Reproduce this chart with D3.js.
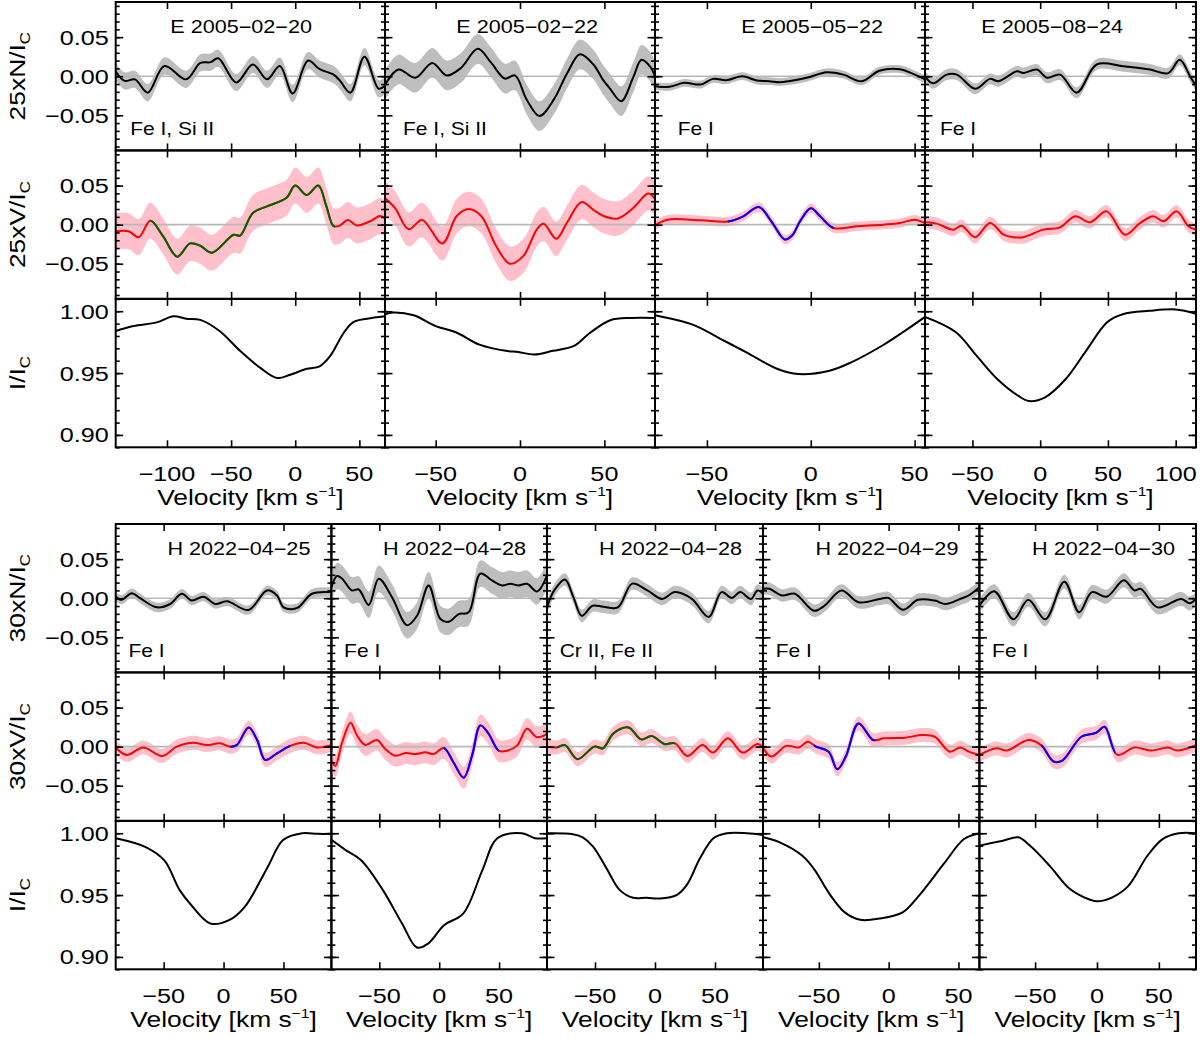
<!DOCTYPE html>
<html><head><meta charset="utf-8">
<script src="https://cdn.jsdelivr.net/npm/d3@7"></script>
<style>
body{margin:0;background:#fff}
svg{display:block}
text{font-family:"Liberation Sans",Arial,Helvetica,sans-serif;fill:#000}
</style>
</head><body>
<svg id="c" width="1200" height="1037"></svg>
<script>
// ---------------- DATA ----------------
// Panel titles and line lists
const topTitles = ["E 2005\u221202\u221220","E 2005\u221202\u221222","E 2005\u221205\u221222","E 2005\u221208\u221224"];
const topLines  = ["Fe I, Si II","Fe I, Si II","Fe I","Fe I"];
const botTitles = ["H 2022\u221204\u221225","H 2022\u221204\u221228","H 2022\u221204\u221228","H 2022\u221204\u221229","H 2022\u221204\u221230"];
const botLines  = ["Fe I","Fe I","Cr II, Fe II","Fe I","Fe I"];

// Velocity ranges (km/s) and tick labels
const topXDomains = [[-140,70],[-80,80],[-75,55],[-85,115]];
const botXDomains = [[-90,90],[-90,90],[-90,90],[-90,65],[-95,80]];
const topXTicks = [[-100,-50,0,50],[-50,0,50],[-50,0,50],[-50,0,50,100]];
const botXTicks = [[-50,0,50],[-50,0,50],[-50,0,50],[-50,0,50],[-50,0,50]];
const nvTicks = [-0.05,0.00,0.05];
const iTicks  = [0.90,0.95,1.00];
const nvDomain = [-0.095,0.095];
const iDomain  = [0.89,1.01];

// Uncertainty half-widths of shaded bands
const topNErr = [0.011,0.019,0.005,0.007];
const topVErr = [0.023,0.022,0.006,0.008];
const botNErr = [0.006,0.017,0.008,0.008,0.009];
const botVErr = [0.009,0.014,0.009,0.009,0.009];

// Highlighted Stokes V segments [vStart, vEnd, kind]  (g = green, b = blue)
const topVSeg = [[[-113,31,"g"]],[],[[-40,11,"b"]],[]];
const botVSeg = [[[5.6,55.7,"b"]],[[3.8,49.7,"b"]],[[-82,17,"g"]],[[-53.5,-9.5,"b"]],[[-45.2,14.8,"b"]]];

// ---- E 2005-02-20 ----
const e0220N = [[-140,0.006],[-133,-0.006],[-125,-0.004],[-115,-0.021],[-102,0.013],[-85,-0.004],[-74,0.017],[-66,0.018],[-60,0.023],[-46,-0.008],[-33,0.015],[-22,-0.004],[-12,0.013],[-2,-0.022],[10,0.020],[19,0.009],[30,0.002],[35,-0.006],[43,-0.021],[54,0.025],[65,-0.016],[70,-0.012]];
const e0220V = [[-140,-0.0085],[-130,-0.0085],[-122,-0.016],[-113,0.005],[-103,-0.015],[-92,-0.041],[-82,-0.024],[-74,-0.027],[-65,-0.036],[-48,-0.013],[-43,-0.014],[-33,0.015],[-22,0.0235],[-7,0.034],[0,0.05],[9,0.038],[18,0.05],[24,0.025],[30,-0.002],[35,-0.001],[41,0.006],[48,-0.001],[58,0.004],[66,0.011],[70,0.008]];
const e0220I = [[-140,0.984],[-126,0.988],[-108,0.991],[-95,0.996],[-85,0.994],[-74,0.993],[-59,0.984],[-43,0.968],[-27,0.954],[-14,0.946],[-4,0.9486],[9,0.9535],[19,0.9555],[27,0.9635],[37.5,0.982],[45,0.991],[56,0.994],[70,0.996]];
// ---- E 2005-02-22 ----
const e0222N = [[-80,-0.011],[-72,0.0085],[-62,-0.002],[-52,0.017],[-43.5,0.001],[-35,0.0106],[-25,0.035],[-17,0.017],[-9,-0.003],[-3,0.001],[4,-0.030],[11.5,-0.051],[20,-0.030],[28,0.004],[35.5,0.028],[43.5,0.015],[49,-0.004],[53,-0.015],[60,-0.032],[67,-0.002],[72,0.021],[77,0.0127],[80,0]];
const e0222V = [[-80,0.034],[-74,0.021],[-66,-0.006],[-58,0.006],[-46,-0.024],[-37.5,0.011],[-30.5,0.020],[-23,0.011],[-14,-0.028],[-6,-0.050],[2,-0.040],[10,-0.006],[14,0.001],[21.5,-0.018],[27.7,0.002],[36.5,0.029],[43.5,0.019],[49.5,0.011],[58,0.008],[67,0.021],[76,0.040],[80,0.033]];
const e0222I = [[-80,0.9976],[-75,0.999],[-63,0.9967],[-50,0.988],[-38,0.983],[-24,0.973],[-8.5,0.968],[-1,0.967],[8.5,0.965],[19.5,0.968],[32,0.972],[41,0.982],[53.5,0.9927],[66,0.9946],[80,0.9946]];
// ---- E 2005-05-22 ----
const e0522N = [[-75,-0.0127],[-68,-0.0136],[-61,-0.0085],[-53,-0.0106],[-47,-0.0034],[-40.5,-0.005],[-33,0],[-26,-0.0055],[-20,-0.0064],[-15,-0.0076],[-10,-0.006],[-2,-0.002],[7.7,0.005],[15.7,0.002],[24.5,-0.0064],[33,0.007],[43,0.009],[49,0.0034],[55,-0.004]];
const e0522V = [[-75,-0.001],[-69,0.0064],[-53,0.0055],[-40,0.004],[-32.5,0.0107],[-25,0.0226],[-19,0.0043],[-12.5,-0.019],[-9,-0.014],[-5,0.005],[0,0.021],[4.5,0.0107],[11,-0.0043],[22,-0.002],[35,0],[43,0.002],[50,0.0064],[55,0.002]];
const e0522I = [[-75,0.9967],[-56,0.9886],[-43.5,0.9777],[-31,0.9668],[-16,0.9533],[-6,0.9492],[9,0.9519],[19.5,0.9587],[34.5,0.9723],[44.5,0.9832],[55,0.9954]];
// ---- E 2005-08-24 ----
const e0824N = [[-85,0],[-79,-0.009],[-69,0.002],[-61.5,0.002],[-48,-0.016],[-37,-0.0034],[-31,-0.0064],[-17,0.0064],[-12.5,0.004],[-2.5,0.0085],[5,-0.002],[14.7,0.002],[27,-0.021],[41.7,0.015],[61.4,0.0127],[81,0.0085],[94.6,0.004],[103,0.021],[110.6,0],[115,-0.0127]];
const e0824V = [[-85,0.003],[-76.4,0.0013],[-64,-0.0064],[-58,-0.0013],[-48,-0.016],[-37,0.002],[-27,-0.0128],[-20,-0.016],[-12.4,-0.016],[2.4,-0.0064],[14.7,-0.0034],[25.8,0.0107],[36.8,0.003],[49,0.017],[62.6,-0.0128],[73.7,0.002],[83.5,0.0107],[91,0.0043],[100.8,0.017],[109.4,-0.002],[115,-0.0064]];
const e0824I = [[-85,0.9954],[-62.4,0.9832],[-47,0.9641],[-31.5,0.945],[-16,0.9315],[-8.3,0.9274],[3.3,0.9302],[18.7,0.945],[34,0.9682],[49.6,0.9913],[61,0.9976],[80.5,1.0003],[100,1.0014],[115,0.998]];
// ---- H 2022-04-25 ----
const h0425N = [[-90,0.002],[-85,-0.002],[-76.6,0.0065],[-69.7,0],[-55.7,-0.0117],[-44.6,-0.0074],[-34.8,0.0057],[-26.5,-0.003],[-16.7,0.002],[-7,-0.0074],[2.8,-0.004],[20.9,-0.015],[36.2,0.01],[44.6,0.0035],[50.1,-0.0117],[61.3,-0.0126],[73.8,0.0057],[89.2,0.0078]];
const h0425V = [[-90,-0.001],[-80.8,-0.0106],[-66.9,-0.001],[-51.5,-0.012],[-39,0],[-25,0.005],[-14,0.002],[-3,0.0042],[5.6,0],[11,0.002],[21,0.0246],[28,0.0085],[34.8,-0.017],[44.6,-0.0085],[55.7,0.001],[66.9,0.005],[78,-0.001],[90,0.002]];
const h0425I = [[-90,0.996],[-65.4,0.989],[-49.4,0.978],[-36.6,0.954],[-27,0.942],[-11,0.927],[5,0.930],[17.7,0.9405],[37,0.973],[49.7,0.9946],[65.7,1.0],[78.5,0.9995],[90,0.9995]];
// ---- H 2022-04-28 (Fe I) ----
const h0428aN = [[-90,0.0142],[-85.3,0.0284],[-81,0.025],[-72.8,0.0099],[-67.2,0.0112],[-58.8,-0.0086],[-50.5,0.025],[-39.4,0.0013],[-26.8,-0.0345],[-18.5,-0.0224],[-8.8,0.0164],[1,-0.0267],[8,-0.0302],[16.3,-0.0203],[24.6,-0.0181],[34.4,0.0315],[44,0.0228],[52.4,0.0164],[59.4,0.0185],[66.4,0.0164],[73.3,0.0185],[81.7,0.0086],[90,0.0293]];
const h0428aV = [[-90,-0.018],[-86.7,-0.0246],[-81,0.0056],[-74,0.0306],[-68.6,0.0142],[-61.6,0.0022],[-52,0.0086],[-45,-0.003],[-36.6,-0.0116],[-28,-0.0082],[-20,-0.0095],[-11.5,-0.0073],[-4.6,-0.0095],[3.8,-0.0017],[12,-0.0203],[20.4,-0.0397],[27.4,-0.0116],[34.4,0.0272],[41.3,0.0164],[49.7,-0.0052],[56.6,-0.0052],[65,0.0013],[73.3,0.0228],[81.7,0.0121],[90,0.0164]];
const h0428aI = [[-90,0.9946],[-79,0.987],[-65,0.978],[-47,0.954],[-31,0.927],[-18.5,0.9076],[-9,0.911],[4,0.9257],[20,0.935],[36,0.970],[48.5,0.996],[69,1.0],[80,0.996],[90,0.996]];
// ---- H 2022-04-28 (Cr II, Fe II) ----
const h0428bN = [[-90,-0.0117],[-84,0.01],[-75,0.024],[-68,0.0013],[-61,-0.0226],[-52,-0.0096],[-43,-0.011],[-31,-0.0117],[-19,0.0187],[-6.4,0.01],[6,-0.0009],[16.6,0.0078],[30.7,-0.0009],[44.8,-0.024],[55.4,0.0078],[64,0.0004],[71,0.0078],[80,-0.0009],[85.4,0.01],[90,0.0057]];
const h0428bV = [[-90,0],[-82,-0.001],[-75,0.002],[-64.6,-0.016],[-50.5,0],[-43.4,-0.002],[-34.6,0.017],[-22,0.0246],[-11.6,0.0093],[-2.8,0.0136],[7.8,0.0034],[16.6,0.0042],[27,-0.012],[39.5,0.002],[48.4,-0.0076],[60.7,0.0106],[73,-0.0076],[85.4,0.0034],[90,-0.001]];
const h0428bI = [[-90,1.0],[-68.3,0.9992],[-59.9,0.9965],[-51.6,0.9892],[-40.4,0.9716],[-29.3,0.954],[-18.2,0.9478],[-7,0.9478],[4.1,0.9473],[18,0.950],[26.4,0.958],[37.5,0.9797],[48.7,0.996],[59.8,1.0],[76.6,1.0],[90,0.9986]];
// ---- H 2022-04-29 ----
const h0429N = [[-90,0.012],[-85.4,0.012],[-76.3,0.0035],[-67.2,0.0057],[-53.5,-0.016],[-46,-0.0096],[-33.8,0.01],[-21.6,-0.0052],[-6.4,-0.0009],[-0.3,0.0004],[10.3,-0.0148],[21,-0.002],[33,-0.003],[40.7,-0.0074],[51.3,-0.0009],[57.4,0.0035],[65,0.014]];
const h0429V = [[-90,-0.001],[-84,-0.0127],[-73.3,0.001],[-64.2,-0.001],[-58,0.0064],[-52,0],[-43,-0.0064],[-36.8,-0.029],[-30.7,-0.0127],[-21.6,0.0297],[-11,0.0085],[-3.4,0.0106],[11.8,0.0115],[24,0.0148],[33,0.0127],[43.7,-0.0064],[51.3,-0.001],[57.4,-0.0064],[65,-0.0106]];
const h0429I = [[-90,0.9967],[-78,0.9926],[-61.6,0.9816],[-53.4,0.971],[-42.4,0.951],[-31.4,0.936],[-20.4,0.93],[-6.6,0.931],[10,0.936],[21,0.9486],[40,0.976],[54,0.9953],[65,1.0]];
// ---- H 2022-04-30 ----
const h0430N = [[-95,-0.0096],[-83,0.009],[-67.5,-0.027],[-55.5,-0.002],[-41.8,-0.027],[-26.4,0.021],[-14.4,-0.018],[-4.1,0.0078],[7.9,0.002],[21.7,0.023],[30.2,0.01],[35.4,0.012],[49,-0.0117],[68,-0.0009],[74.8,-0.0065],[80,-0.0009]];
const h0430V = [[-95,-0.0106],[-81.3,-0.002],[-72.7,-0.005],[-55.5,0.0085],[-45.2,0.002],[-35,-0.019],[-28,-0.0178],[-12.6,0.0127],[-0.6,0.0178],[6.2,0.0254],[16.5,-0.0106],[30.2,-0.001],[43.9,-0.005],[57.7,-0.001],[64.5,-0.005],[80,0.002]];
const h0430I = [[-95,0.990],[-76,0.994],[-63.5,0.9967],[-54,0.9898],[-38,0.9734],[-22.5,0.9555],[-10,0.948],[-0.4,0.945],[12,0.948],[25,0.957],[40.6,0.9816],[53,0.9953],[66,1.0],[80,1.0]];

const topN = [e0220N,e0222N,e0522N,e0824N];
const topV = [e0220V,e0222V,e0522V,e0824V];
const topI = [e0220I,e0222I,e0522I,e0824I];
const botN = [h0425N,h0428aN,h0428bN,h0429N,h0430N];
const botV = [h0425V,h0428aV,h0428bV,h0429V,h0430V];
const botI = [h0425I,h0428aI,h0428bI,h0429I,h0430I];

// ---------------- LAYOUT / STYLE ----------------
const SX = 1.2; // horizontal stretch of the original font
const FONT = {tick:21, axis:22, title:18, line:17.5};
const COL = {band:"#bebebe", pink:"#ffc0cb", red:"#ff0000", g:"#006400", b:"#0000ff", zero:"#b8b8b8"};
const layout = [
  {y0:2, y1:447.3, cols:[115.7,385,655,925,1196], mult:"25", titles:topTitles, lines:topLines,
   xd:topXDomains, xt:topXTicks, N:topN, V:topV, I:topI, nErr:topNErr, vErr:topVErr, seg:topVSeg,
   titleRight:[73,57,42,73], lineLeft:[14.5,18,22.7,15]},
  {y0:524, y1:969.3, cols:[115.7,331.4,547,763,979.4,1196], mult:"30", titles:botTitles, lines:botLines,
   xd:botXDomains, xt:botXTicks, N:botN, V:botV, I:botI, nErr:botNErr, vErr:botVErr, seg:botVSeg,
   titleRight:[21,21,21,21,21], lineLeft:[12.7,12.7,12.7,12.7,12.7]}
];

const svg = d3.select("#c");
let clipId = 0;

function txt(g, x, y, s, size, anchor, rot){
  const t = g.append("text")
    .attr("transform", `translate(${x},${y})` + (rot ? ` rotate(${rot})` : "") + ` scale(${SX},1)`)
    .attr("font-size", size).attr("text-anchor", anchor || "start");
  if (s !== null) t.text(s);
  return t;
}

function minorTicks(dom, step){
  const out = [];
  const a = Math.ceil(dom[0]/step - 1e-9), b = Math.floor(dom[1]/step + 1e-9);
  for (let k=a;k<=b;k++) out.push(+(k*step).toFixed(4));
  return out;
}

layout.forEach(L => {
  const h = (L.y1 - L.y0) / 3;
  const nCols = L.cols.length - 1;
  for (let c=0;c<nCols;c++){
    const xl = L.cols[c], xr = L.cols[c+1];
    const x = d3.scaleLinear().domain(L.xd[c]).range([xl, xr]);
    const rows = [
      {data:L.N[c], dom:nvDomain, err:L.nErr[c], band:COL.band, line:"#000", kind:"N"},
      {data:L.V[c], dom:nvDomain, err:L.vErr[c], band:COL.pink, line:COL.red, kind:"V"},
      {data:L.I[c], dom:iDomain, err:0, band:null, line:"#000", kind:"I"}
    ];
    rows.forEach((R, r) => {
      const yt = L.y0 + r*h, yb = yt + h;
      const y = d3.scaleLinear().domain(R.dom).range([yb, yt]);
      const g = svg.append("g");
      const id = "clip" + (clipId++);
      svg.append("clipPath").attr("id", id).append("rect")
        .attr("x", xl).attr("y", yt).attr("width", xr-xl).attr("height", h);
      const pg = g.append("g").attr("clip-path", `url(#${id})`);
      const curve = d3.curveCatmullRom.alpha(0.5);
      if (R.band){
        const area = d3.area().x(d=>x(d[0])).y0(d=>y(d[1]-R.err)).y1(d=>y(d[1]+R.err)).curve(curve);
        pg.append("path").datum(R.data).attr("d", area).attr("fill", R.band);
      }
      if (R.kind !== "I"){
        pg.append("line").attr("x1", xl).attr("x2", xr).attr("y1", y(0)).attr("y2", y(0))
          .attr("stroke", COL.zero).attr("stroke-width", 1.6);
      }
      const line = d3.line().x(d=>x(d[0])).y(d=>y(d[1])).curve(curve);
      pg.append("path").datum(R.data).attr("d", line).attr("fill","none")
        .attr("stroke", R.line).attr("stroke-width", 2).attr("stroke-linejoin","round");
      if (R.kind === "V"){
        L.seg[c].forEach(s => {
          const sid = "clip" + (clipId++);
          svg.append("clipPath").attr("id", sid).append("rect")
            .attr("x", x(s[0])).attr("y", yt).attr("width", x(s[1])-x(s[0])).attr("height", h);
          pg.append("g").attr("clip-path", `url(#${sid})`).append("path").datum(R.data)
            .attr("d", line).attr("fill","none").attr("stroke", COL[s[2]]).attr("stroke-width", 2);
        });
      }
      // ticks (inward) via d3 axes
      const minor = minorTicks(R.dom, 0.01);
      const major = R.kind === "I" ? iTicks : nvTicks;
      const mk = (ax, vals, len) => ax.tickValues(vals).tickSize(-len).tickFormat("");
      [[()=>d3.axisLeft(y), xl], [()=>d3.axisRight(y), xr]].forEach(([axf, px]) => {
        const a1 = g.append("g").attr("transform", `translate(${px},0)`).call(mk(axf(), minor, 4));
        const a2 = g.append("g").attr("transform", `translate(${px},0)`).call(mk(axf(), major, 7.5));
        [a1,a2].forEach(a => { a.select(".domain").remove(); a.selectAll("line").attr("stroke","#000").attr("stroke-width",1.6); });
      });
      [[d3.axisBottom(x), yb], [d3.axisTop(x), yt]].forEach(([ax, py]) => {
        const a = g.append("g").attr("transform", `translate(0,${py})`).call(mk(ax, L.xt[c], 7));
        a.select(".domain").remove();
        a.selectAll("line").attr("stroke","#000").attr("stroke-width",1.6);
      });
      // frame
      g.append("rect").attr("x", xl).attr("y", yt).attr("width", xr-xl).attr("height", h)
        .attr("fill","none").attr("stroke","#000").attr("stroke-width", 2);
      // y tick labels and y title on first column
      if (c === 0){
        const fmt = d3.format(".2f");
        major.forEach(v => txt(svg, xl-7, y(v)+7.5, fmt(v), FONT.tick, "end"));
        const lab = txt(svg, 25, (yt+yb)/2, null, FONT.axis, "middle", -90);
        const main = R.kind === "I" ? "I/I" : `${L.mult}x${R.kind}/I`;
        lab.append("tspan").text(main);
        lab.append("tspan").attr("font-size", 14).attr("dy", 5).text("C");
      }
      // panel title and line list
      if (r === 0){
        txt(svg, xr - L.titleRight[c], yt + 31, L.titles[c], FONT.title, "end");
        txt(svg, xl + L.lineLeft[c], yb - 15, L.lines[c], FONT.line, "start");
      }
      // x tick labels + axis title on the I row
      if (r === 2){
        L.xt[c].forEach(v => txt(svg, x(v), yb + 34, d3.format("d")(v), FONT.tick, "middle"));
        const t = txt(svg, (xl+xr)/2, yb + 58, null, FONT.axis, "middle");
        t.append("tspan").text("Velocity [km s");
        t.append("tspan").attr("font-size", 13).attr("dy", -9).text("\u22121");
        t.append("tspan").attr("dy", 9).text("]");
      }
    });
  }
});
</script>
</body></html>
